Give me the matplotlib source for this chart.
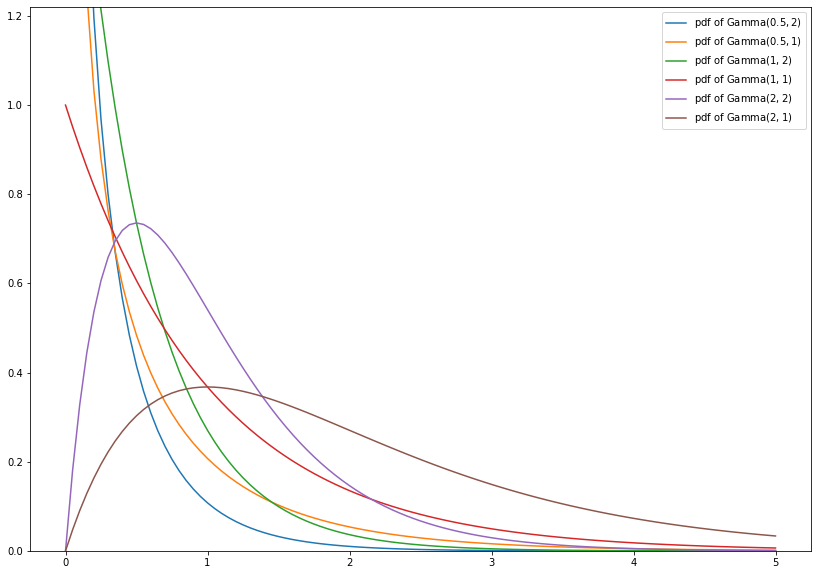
import math
import numpy as np
import matplotlib
matplotlib.use('Agg')
import matplotlib.pyplot as plt

# Gamma(shape, rate) parameters
shapes = [0.5, 0.5, 1, 1, 2, 2]
rates = [2, 1, 2, 1, 2, 1]
x_start, x_stop, n_points = 0, 5, 101


def gamma_pdf(x, a, b):
    # pdf with rate parametrisation
    with np.errstate(divide='ignore', invalid='ignore'):
        return b ** a * x ** (a - 1) * np.exp(-b * x) / math.gamma(a)


x = np.linspace(x_start, x_stop, n_points)

fig = plt.figure(figsize=(818 / 72, 575 / 72), dpi=72)
ax = fig.add_axes([30 / 818, 24 / 575, 781 / 818, 544 / 575])

for a, b in zip(shapes, rates):
    ax.plot(x, gamma_pdf(x, a, b), label=f'pdf of Gamma$({a}, {b})$')

ax.set_ylim(0, 1.22)
ax.legend(loc='upper right')

fig.savefig('out.png', dpi=72)
